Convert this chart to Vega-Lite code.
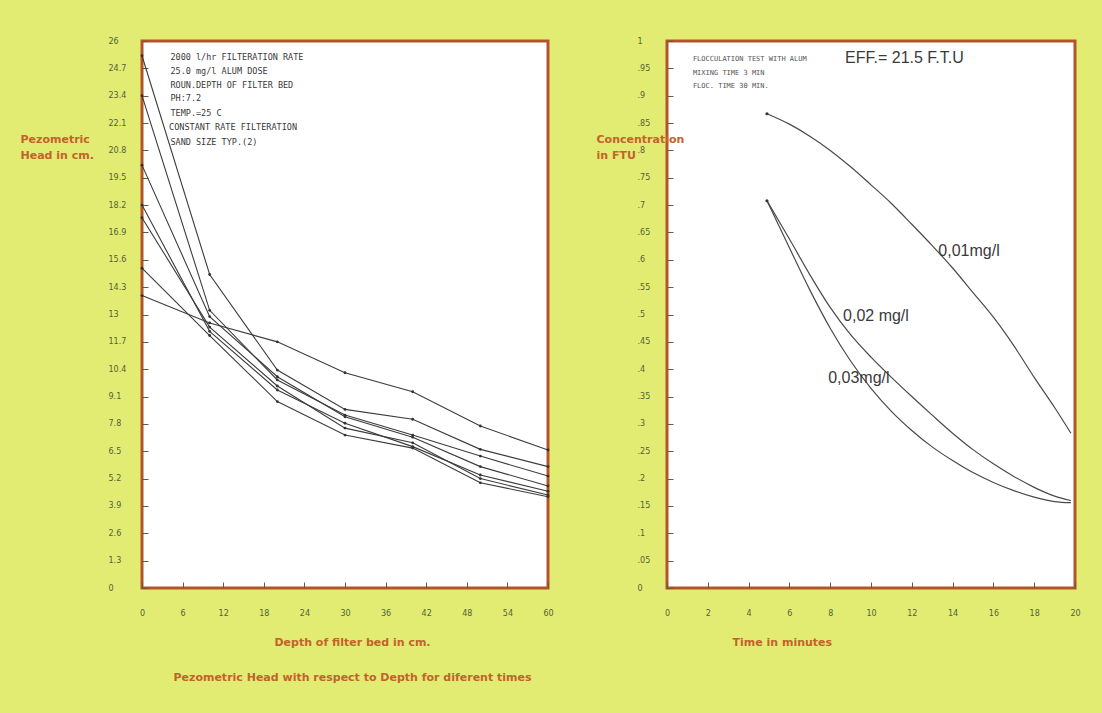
{
  "$schema": "https://vega.github.io/schema/vega-lite/v6.json",
  "background": "#e2ec72",
  "padding": {"left": 18, "top": 35, "right": 26, "bottom": 30},
  "bounds": "flush",
  "spacing": 119,
  "config": {
    "view": {"stroke": "#b5542b", "strokeWidth": 3, "fill": "#ffffff"},
    "axis": {
      "domain": false, "grid": false,
      "labelFont": "DejaVu Sans", "labelFontSize": 8, "labelColor": "#55603a",
      "labelOverlap": false, "labelFlush": false, "labelBound": false,
      "tickColor": "#6a5a3a", "tickSize": -6,
      "titleFont": "DejaVu Sans", "titleFontSize": 11, "titleFontWeight": "bold", "titleColor": "#c4622c"
    }
  },
  "datasets": {
    "heads": [
      {"run": "A", "depth": 0, "head": 13.9}, {"run": "A", "depth": 10, "head": 12.6}, {"run": "A", "depth": 20, "head": 11.7}, {"run": "A", "depth": 30, "head": 10.23}, {"run": "A", "depth": 40, "head": 9.33}, {"run": "A", "depth": 50, "head": 7.7}, {"run": "A", "depth": 60, "head": 6.56},
      {"run": "B", "depth": 0, "head": 25.3}, {"run": "B", "depth": 10, "head": 14.9}, {"run": "B", "depth": 20, "head": 10.36}, {"run": "B", "depth": 30, "head": 8.49}, {"run": "B", "depth": 40, "head": 8.02}, {"run": "B", "depth": 50, "head": 6.59}, {"run": "B", "depth": 60, "head": 5.77},
      {"run": "C", "depth": 0, "head": 23.4}, {"run": "C", "depth": 10, "head": 13.2}, {"run": "C", "depth": 20, "head": 9.89}, {"run": "C", "depth": 30, "head": 8.22}, {"run": "C", "depth": 40, "head": 7.27}, {"run": "C", "depth": 50, "head": 6.27}, {"run": "C", "depth": 60, "head": 5.32},
      {"run": "D", "depth": 0, "head": 20.1}, {"run": "D", "depth": 10, "head": 12.9}, {"run": "D", "depth": 20, "head": 10.04}, {"run": "D", "depth": 30, "head": 8.14}, {"run": "D", "depth": 40, "head": 7.17}, {"run": "D", "depth": 50, "head": 5.77}, {"run": "D", "depth": 60, "head": 4.85},
      {"run": "E", "depth": 0, "head": 18.2}, {"run": "E", "depth": 10, "head": 12.2}, {"run": "E", "depth": 20, "head": 9.41}, {"run": "E", "depth": 30, "head": 7.83}, {"run": "E", "depth": 40, "head": 6.72}, {"run": "E", "depth": 50, "head": 5.37}, {"run": "E", "depth": 60, "head": 4.6},
      {"run": "F", "depth": 0, "head": 17.6}, {"run": "F", "depth": 10, "head": 12.4}, {"run": "F", "depth": 20, "head": 9.6}, {"run": "F", "depth": 30, "head": 7.6}, {"run": "F", "depth": 40, "head": 6.9}, {"run": "F", "depth": 50, "head": 5.2}, {"run": "F", "depth": 60, "head": 4.42},
      {"run": "G", "depth": 0, "head": 15.2}, {"run": "G", "depth": 10, "head": 12.0}, {"run": "G", "depth": 20, "head": 8.86}, {"run": "G", "depth": 30, "head": 7.27}, {"run": "G", "depth": 40, "head": 6.65}, {"run": "G", "depth": 50, "head": 5.0}, {"run": "G", "depth": 60, "head": 4.34}
    ],
    "notesL": [
      {"depth": 4.2, "head": 25.24, "note": "2000 l/hr FILTERATION RATE"},
      {"depth": 4.2, "head": 24.57, "note": "25.0 mg/l ALUM DOSE"},
      {"depth": 4.2, "head": 23.9, "note": "ROUN.DEPTH OF FILTER BED"},
      {"depth": 4.2, "head": 23.29, "note": "PH:7.2"},
      {"depth": 4.2, "head": 22.57, "note": "TEMP.=25 C"},
      {"depth": 4.0, "head": 21.91, "note": "CONSTANT RATE FILTERATION"},
      {"depth": 4.2, "head": 21.2, "note": "SAND SIZE TYP.(2)"}
    ],
    "conc": [
      {"dose": "0,01", "t": 4.9, "v": 0.867}, {"dose": "0,01", "t": 6, "v": 0.848}, {"dose": "0,01", "t": 7, "v": 0.826}, {"dose": "0,01", "t": 8, "v": 0.8}, {"dose": "0,01", "t": 9, "v": 0.77}, {"dose": "0,01", "t": 10, "v": 0.737}, {"dose": "0,01", "t": 11, "v": 0.703}, {"dose": "0,01", "t": 12, "v": 0.665}, {"dose": "0,01", "t": 13, "v": 0.626}, {"dose": "0,01", "t": 14, "v": 0.585}, {"dose": "0,01", "t": 15, "v": 0.54}, {"dose": "0,01", "t": 16, "v": 0.495}, {"dose": "0,01", "t": 17, "v": 0.443}, {"dose": "0,01", "t": 18, "v": 0.385}, {"dose": "0,01", "t": 19, "v": 0.33}, {"dose": "0,01", "t": 19.8, "v": 0.283},
      {"dose": "0,02", "t": 4.9, "v": 0.708}, {"dose": "0,02", "t": 6, "v": 0.638}, {"dose": "0,02", "t": 7, "v": 0.573}, {"dose": "0,02", "t": 8, "v": 0.513}, {"dose": "0,02", "t": 9, "v": 0.463}, {"dose": "0,02", "t": 10, "v": 0.422}, {"dose": "0,02", "t": 11, "v": 0.385}, {"dose": "0,02", "t": 12, "v": 0.35}, {"dose": "0,02", "t": 13, "v": 0.316}, {"dose": "0,02", "t": 14, "v": 0.283}, {"dose": "0,02", "t": 15, "v": 0.253}, {"dose": "0,02", "t": 16, "v": 0.227}, {"dose": "0,02", "t": 17, "v": 0.204}, {"dose": "0,02", "t": 18, "v": 0.184}, {"dose": "0,02", "t": 19, "v": 0.168}, {"dose": "0,02", "t": 19.8, "v": 0.16},
      {"dose": "0,03", "t": 4.9, "v": 0.708}, {"dose": "0,03", "t": 6, "v": 0.622}, {"dose": "0,03", "t": 7, "v": 0.545}, {"dose": "0,03", "t": 8, "v": 0.475}, {"dose": "0,03", "t": 9, "v": 0.415}, {"dose": "0,03", "t": 10, "v": 0.365}, {"dose": "0,03", "t": 11, "v": 0.323}, {"dose": "0,03", "t": 12, "v": 0.288}, {"dose": "0,03", "t": 13, "v": 0.258}, {"dose": "0,03", "t": 14, "v": 0.233}, {"dose": "0,03", "t": 15, "v": 0.211}, {"dose": "0,03", "t": 16, "v": 0.193}, {"dose": "0,03", "t": 17, "v": 0.178}, {"dose": "0,03", "t": 18, "v": 0.166}, {"dose": "0,03", "t": 19, "v": 0.158}, {"dose": "0,03", "t": 19.8, "v": 0.156}
    ],
    "starts": [
      {"t": 4.9, "v": 0.867}, {"t": 4.9, "v": 0.708}
    ],
    "curveLabels": [
      {"t": 13.3, "v": 0.617, "label": "0,01mg/l"},
      {"t": 8.63, "v": 0.498, "label": "0,02 mg/l"},
      {"t": 7.9, "v": 0.383, "label": "0,03mg/l"}
    ],
    "notesR": [
      {"t": 1.27, "v": 0.967, "note": "FLOCCULATION TEST WITH ALUM"},
      {"t": 1.27, "v": 0.942, "note": "MIXING TIME 3 MIN"},
      {"t": 1.27, "v": 0.918, "note": "FLOC. TIME 30 MIN."}
    ],
    "eff": [
      {"t": 8.73, "v": 0.969, "note": "EFF.= 21.5 F.T.U"}
    ]
  },
  "hconcat": [
    {
      "width": 406,
      "height": 547,
      "layer": [
        {
          "data": {"name": "heads"},
          "mark": {"type": "line", "color": "#3c3c3c", "strokeWidth": 1.1},
          "encoding": {
            "x": {
              "field": "depth", "type": "quantitative",
              "scale": {"domain": [0, 60], "nice": false, "zero": false},
              "axis": {
                "values": [0, 6, 12, 18, 24, 30, 36, 42, 48, 54, 60], "tickCount": 30,
                "labelExpr": "toString(datum.value)", "labelOverlap": false, "labelPadding": 27,
                "title": ["Depth of filter bed in cm.", "Pezometric Head with respect to Depth for diferent times"],
                "titleLineHeight": 35, "titleBaseline": "top", "titleY": 48, "titleX": 210, "titleAlign": "center"
              }
            },
            "y": {
              "field": "head", "type": "quantitative",
              "scale": {"domain": [0, 26], "nice": false, "zero": false},
              "axis": {
                "values": [0, 1.3, 2.6, 3.9, 5.2, 6.5, 7.8, 9.1, 10.4, 11.7, 13, 14.3, 15.6, 16.9, 18.2, 19.5, 20.8, 22.1, 23.4, 24.7, 26], "tickCount": 30,
                "labelExpr": "toString(datum.value)", "labelOverlap": false,
                "labelAlign": "left", "labelPadding": 40,
                "title": ["Pezometric", "Head in cm."],
                "titleAngle": 0, "titleAlign": "left", "titleBaseline": "top",
                "titleX": -122, "titleY": 92, "titleLineHeight": 16
              }
            },
            "detail": {"field": "run"}
          }
        },
        {
          "data": {"name": "heads"},
          "mark": {"type": "point", "filled": true, "size": 8, "color": "#333333", "opacity": 1},
          "encoding": {
            "x": {"field": "depth", "type": "quantitative"},
            "y": {"field": "head", "type": "quantitative"}
          }
        },
        {
          "data": {"name": "notesL"},
          "mark": {"type": "text", "align": "left", "baseline": "middle", "font": "DejaVu Sans Mono", "fontSize": 8.5, "color": "#3a3a3a"},
          "encoding": {
            "x": {"field": "depth", "type": "quantitative"},
            "y": {"field": "head", "type": "quantitative"},
            "text": {"field": "note"}
          }
        }
      ]
    },
    {
      "width": 408,
      "height": 547,
      "layer": [
        {
          "data": {"name": "conc"},
          "mark": {"type": "line", "color": "#4a4a4a", "strokeWidth": 1.2, "interpolate": "monotone"},
          "encoding": {
            "x": {
              "field": "t", "type": "quantitative",
              "scale": {"domain": [0, 20], "nice": false, "zero": false},
              "axis": {
                "values": [0, 2, 4, 6, 8, 10, 12, 14, 16, 18, 20], "tickCount": 30,
                "labelExpr": "toString(datum.value)", "labelOverlap": false, "labelPadding": 27,
                "title": "Time in minutes",
                "titleBaseline": "top", "titleY": 48, "titleX": 65, "titleAlign": "left"
              }
            },
            "y": {
              "field": "v", "type": "quantitative",
              "scale": {"domain": [0, 1], "nice": false, "zero": false},
              "axis": {
                "values": [0, 0.05, 0.1, 0.15, 0.2, 0.25, 0.3, 0.35, 0.4, 0.45, 0.5, 0.55, 0.6, 0.65, 0.7, 0.75, 0.8, 0.85, 0.9, 0.95, 1], "tickCount": 30,
                "labelExpr": "replace(toString(datum.value), '0.', '.')", "labelOverlap": false,
                "labelAlign": "left", "labelPadding": 36,
                "title": ["Concentration", "in FTU"],
                "titleAngle": 0, "titleAlign": "left", "titleBaseline": "top",
                "titleX": -71, "titleY": 92, "titleLineHeight": 16
              }
            },
            "detail": {"field": "dose"}
          }
        },
        {
          "data": {"name": "starts"},
          "mark": {"type": "point", "filled": true, "size": 10, "color": "#333333", "opacity": 1},
          "encoding": {
            "x": {"field": "t", "type": "quantitative"},
            "y": {"field": "v", "type": "quantitative"}
          }
        },
        {
          "data": {"name": "curveLabels"},
          "mark": {"type": "text", "align": "left", "baseline": "middle", "font": "Liberation Sans", "fontSize": 16, "color": "#3a3a3a"},
          "encoding": {
            "x": {"field": "t", "type": "quantitative"},
            "y": {"field": "v", "type": "quantitative"},
            "text": {"field": "label"}
          }
        },
        {
          "data": {"name": "notesR"},
          "mark": {"type": "text", "align": "left", "baseline": "middle", "font": "DejaVu Sans Mono", "fontSize": 7, "color": "#555555"},
          "encoding": {
            "x": {"field": "t", "type": "quantitative"},
            "y": {"field": "v", "type": "quantitative"},
            "text": {"field": "note"}
          }
        },
        {
          "data": {"name": "eff"},
          "mark": {"type": "text", "align": "left", "baseline": "middle", "font": "Liberation Sans", "fontSize": 16, "color": "#3a3a3a"},
          "encoding": {
            "x": {"field": "t", "type": "quantitative"},
            "y": {"field": "v", "type": "quantitative"},
            "text": {"field": "note"}
          }
        }
      ]
    }
  ]
}
